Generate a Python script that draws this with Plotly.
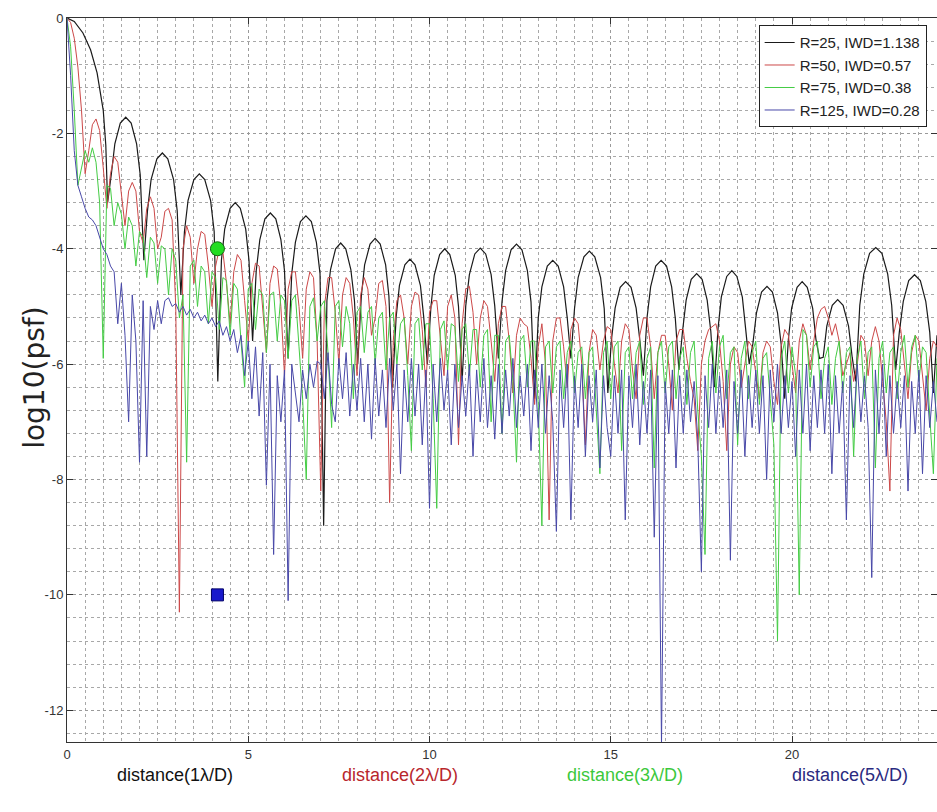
import plotly.graph_objects as go

# ---------------- data ----------------
# R=25 (black): lobe nulls / shoulders / peaks
black_x = [0.0, 0.2, 0.44, 0.65, 0.83, 1.0, 1.07, 1.12,
           1.22, 1.32, 1.47, 1.62, 1.77, 1.92, 2.02, 2.12,
           2.22, 2.32, 2.48, 2.63, 2.78, 2.94, 3.04, 3.14,
           3.24, 3.34, 3.5, 3.65, 3.8, 3.96, 4.06, 4.16,
           4.26, 4.35, 4.5, 4.64, 4.78, 4.93, 5.02, 5.12,
           5.22, 5.32, 5.46, 5.61, 5.76, 5.9, 6.0, 6.1,
           6.2, 6.3, 6.44, 6.59, 6.74, 6.88, 6.98, 7.08,
           7.17, 7.27, 7.41, 7.55, 7.69, 7.83, 7.93, 8.02,
           8.12, 8.21, 8.36, 8.5, 8.64, 8.79, 8.88, 8.98,
           9.08, 9.17, 9.32, 9.46, 9.6, 9.75, 9.84, 9.94,
           10.04, 10.13, 10.28, 10.42, 10.56, 10.71, 10.8, 10.9,
           11.0, 11.1, 11.25, 11.4, 11.55, 11.7, 11.8, 11.9,
           12.0, 12.1, 12.25, 12.4, 12.55, 12.7, 12.8, 12.9,
           13.0, 13.1, 13.25, 13.4, 13.55, 13.7, 13.8, 13.9,
           14.0, 14.1, 14.26, 14.41, 14.56, 14.72, 14.82, 14.92,
           15.02, 15.12, 15.26, 15.41, 15.56, 15.7, 15.8, 15.9,
           16.0, 16.1, 16.24, 16.39, 16.54, 16.68, 16.78, 16.88,
           16.98, 17.08, 17.22, 17.37, 17.52, 17.66, 17.76, 17.86,
           17.96, 18.05, 18.2, 18.34, 18.48, 18.63, 18.72, 18.82,
           18.92, 19.02, 19.16, 19.31, 19.46, 19.6, 19.7, 19.8,
           19.9, 19.99, 20.14, 20.28, 20.42, 20.57, 20.66, 20.76,
           20.86, 20.96, 21.11, 21.26, 21.41, 21.56, 21.66, 21.76,
           21.87, 21.98, 22.14, 22.31, 22.48, 22.64, 22.75, 22.86,
           22.96, 23.07, 23.22, 23.38, 23.54, 23.69, 23.8, 23.9,
           24.0]
black_y = [0.0, -0.06, -0.26, -0.55, -0.95, -1.6, -2.2, -3.2,
           -2.72, -2.18, -1.82, -1.72, -1.82, -2.18, -2.72, -4.2,
           -3.34, -2.8, -2.44, -2.34, -2.44, -2.8, -3.34, -4.8,
           -3.7, -3.16, -2.8, -2.7, -2.8, -3.16, -3.7, -6.3,
           -4.2, -3.66, -3.3, -3.2, -3.3, -3.66, -4.2, -5.6,
           -4.38, -3.84, -3.48, -3.38, -3.48, -3.84, -4.38, -5.9,
           -4.43, -3.89, -3.53, -3.43, -3.53, -3.89, -4.43, -8.8,
           -4.9, -4.36, -4.0, -3.9, -4.0, -4.36, -4.9, -6.0,
           -4.82, -4.28, -3.92, -3.82, -3.92, -4.28, -4.82, -6.4,
           -5.18, -4.64, -4.28, -4.18, -4.28, -4.64, -5.18, -6.0,
           -5.0, -4.46, -4.1, -4.0, -4.1, -4.46, -5.0, -6.3,
           -4.99, -4.45, -4.09, -3.99, -4.09, -4.45, -4.99, -5.9,
           -4.92, -4.38, -4.02, -3.92, -4.02, -4.38, -4.92, -6.6,
           -5.2, -4.66, -4.3, -4.2, -4.3, -4.66, -5.2, -5.9,
           -5.04, -4.5, -4.14, -4.04, -4.14, -4.5, -5.04, -6.5,
           -5.57, -5.03, -4.67, -4.57, -4.67, -5.03, -5.57, -6.2,
           -5.2, -4.66, -4.3, -4.2, -4.3, -4.66, -5.2, -6.1,
           -5.43, -4.89, -4.53, -4.43, -4.53, -4.89, -5.43, -6.4,
           -5.38, -4.84, -4.48, -4.38, -4.48, -4.84, -5.38, -6.0,
           -5.65, -5.11, -4.75, -4.65, -4.75, -5.11, -5.65, -6.6,
           -5.57, -5.03, -4.67, -4.57, -4.67, -5.03, -5.57, -5.9,
           -5.88, -5.34, -4.98, -4.88, -4.98, -5.34, -5.88, -6.3,
           -4.98, -4.44, -4.08, -3.98, -4.08, -4.44, -4.98, -6.1,
           -5.45, -4.91, -4.55, -4.45, -4.55, -4.91, -5.45, -6.5,
           -5.5]

# R=50, R=75, R=125 sampled every 0.1 (x = 0.0 ... 24.0)
grid_x = [round(i * 0.1, 1) for i in range(241)]

red_y = [
    0, -0.08, -0.35, -0.85, -1.6, -2.7, -2.3, -1.85, -1.75, -1.95,
    -2.6, -3.3, -2.7, -2.4, -2.5, -3.1, -3.6, -3.0, -2.85, -3.0,
    -3.7, -3.9, -3.3, -3.1, -3.3, -4.0, -3.8, -3.35, -3.3, -3.5,
    -5.0, -10.3, -4.0, -3.6, -3.8, -4.6, -4.0, -3.7, -3.75, -4.3,
    -5.0, -4.3, -4.0, -4.05, -4.6, -5.3, -4.4, -4.1, -4.2, -4.9,
    -5.6, -4.6, -4.25, -4.3, -5.0, -5.8, -4.6, -4.3, -4.35, -5.0,
    -6.2, -4.7, -4.4, -4.4, -5.0, -5.9, -4.7, -4.4, -4.5, -5.6,
    -8.2, -5.0, -4.5, -4.5, -5.1, -6.0, -4.8, -4.5, -4.6, -5.2,
    -6.2, -4.8, -4.5, -4.7, -5.5, -5.2, -4.6, -4.55, -5.0, -8.4,
    -5.6, -4.9, -4.8, -5.2, -6.0, -5.0, -4.75, -4.8, -5.4, -6.4,
    -5.1, -4.9, -4.9, -5.5, -6.2, -5.0, -4.8, -5.2, -7.4, -5.3,
    -4.7, -4.65, -5.1, -6.0, -5.2, -4.9, -5.0, -5.6, -6.3, -5.3,
    -5.0, -5.0, -5.6, -6.5, -5.5, -5.2, -5.3, -5.35, -5.9, -6.7,
    -5.7, -5.3, -6.0, -8.7, -5.6, -5.2, -5.2, -5.7, -6.4, -5.4,
    -5.2, -5.3, -6.0, -7.4, -5.8, -5.4, -5.5, -6.1, -5.6, -5.35,
    -5.4, -6.0, -6.5, -5.6, -5.3, -5.4, -6.1, -6.6, -5.5, -5.2,
    -5.2, -5.7, -6.6, -5.8, -5.5, -5.5, -6.0, -6.8, -5.6, -5.4,
    -5.4, -5.9, -6.3, -6.6, -7.5, -6.0, -5.6, -5.4, -5.35, -5.3,
    -5.6, -6.3, -7.5, -6.0, -5.7, -5.8, -6.4, -6.0, -5.6, -5.7,
    -6.2, -6.6, -5.8, -5.6, -5.7, -6.3, -6.7, -5.7, -5.4, -5.5,
    -6.0, -6.5, -5.6, -5.3, -5.5, -6.1, -5.6, -5.2, -5.05, -5.0,
    -5.2, -5.5, -5.3, -5.6, -6.2, -6.0, -5.8, -6.3, -6.0, -5.5,
    -5.6, -6.2, -5.6, -5.35, -5.6, -6.3, -7.0, -8.2, -5.5, -5.2,
    -5.4, -6.0, -6.6, -5.8, -5.5, -5.6, -6.2, -6.8, -5.9, -5.6,
    -5.7]

green_y = [
    0, -0.5, -1.6, -2.9, -2.6, -2.3, -2.5, -2.25, -2.5, -3.2,
    -5.9, -2.9, -2.95, -3.6, -3.2, -3.4, -4.0, -3.45, -3.6, -4.3,
    -3.7, -3.8, -4.5, -3.8, -3.9, -4.6, -3.95, -4.0, -4.8, -4.0,
    -4.2, -5.2, -4.8, -7.7, -4.3, -4.2, -5.0, -4.3, -4.4, -5.3,
    -4.4, -4.5, -5.4, -4.5, -4.55, -5.5, -4.6, -4.7, -5.6, -6.4,
    -4.7, -4.6, -5.4, -4.7, -4.8, -5.8, -4.8, -4.75, -5.6, -4.8,
    -4.9, -5.9, -4.9, -4.8, -5.7, -6.6, -8.0, -5.0, -4.85, -5.6,
    -5.0, -4.9, -5.8, -7.1, -5.0, -4.9, -5.7, -5.0, -5.3, -6.6,
    -5.1, -5.0, -5.8, -5.1, -5.0, -6.0, -5.2, -5.1, -6.1, -5.2,
    -5.1, -6.0, -5.3, -5.2, -6.2, -7.5, -5.3, -5.2, -6.1, -5.3,
    -5.3, -6.6, -8.5, -5.4, -5.25, -6.1, -5.3, -5.35, -6.3, -5.4,
    -5.3, -6.2, -5.4, -5.4, -6.4, -5.5, -5.4, -7.0, -5.5, -5.5,
    -7.2, -5.6, -5.5, -6.3, -7.7, -5.6, -5.5, -6.4, -5.6, -5.6,
    -6.7, -8.8, -5.7, -5.6, -6.5, -5.7, -5.6, -6.6, -5.8, -5.6,
    -6.5, -5.8, -5.7, -6.6, -5.8, -5.7, -6.8, -7.9, -5.8, -5.6,
    -6.6, -5.7, -5.6, -7.5, -5.8, -5.7, -6.6, -5.8, -5.6, -6.7,
    -5.9, -5.7, -7.8, -5.8, -5.6, -6.5, -5.7, -5.6, -6.6, -5.9,
    -5.7, -6.7, -5.8, -5.6, -6.8, -7.6, -9.3, -5.9, -5.6, -6.5,
    -5.7, -5.5, -6.6, -5.8, -5.7, -7.4, -5.9, -5.6, -6.6, -5.8,
    -5.6, -6.7, -5.9, -5.8, -6.6, -7.4, -10.8, -5.9, -5.6, -6.5,
    -5.7, -6.2, -10.0, -5.4, -5.5, -6.4, -5.7, -5.6, -6.6, -5.9,
    -5.7, -6.7, -5.9, -5.6, -6.5, -5.8, -5.7, -7.6, -5.9, -5.6,
    -6.6, -5.8, -5.7, -7.8, -5.9, -5.6, -6.5, -5.8, -5.7, -6.6,
    -5.8, -5.5, -6.4, -5.7, -5.5, -6.3, -5.7, -5.8, -6.9, -7.9,
    -5.9]

blue_y = [
    0, -1.0, -2.3, -2.9, -3.1, -3.3, -3.45, -3.5, -3.6, -3.8,
    -4.0, -4.1, -4.3, -4.4, -5.3, -4.6, -5.5, -7.0, -4.8, -5.6,
    -7.7, -4.9, -7.6, -5.0, -5.4, -4.9, -5.3, -4.9, -4.85, -5.0,
    -4.95, -5.1, -5.0, -5.15, -5.05, -5.2, -5.1, -5.25, -5.15, -5.3,
    -5.2, -5.35, -5.25, -5.5, -5.35, -5.6, -5.4, -5.8, -5.5, -6.2,
    -5.6, -6.6, -5.7, -6.9, -5.8, -8.1, -6.0, -9.3, -6.2, -7.0,
    -6.1, -10.1, -6.0, -6.5, -7.0, -6.1, -6.6, -6.0, -6.4, -5.95,
    -6.0, -6.6, -5.8, -6.7, -7.0, -5.9, -6.6, -5.8, -6.9, -6.0,
    -6.8, -5.9, -7.0, -6.0, -7.3, -5.9, -6.9, -6.1, -7.1, -5.9,
    -6.8, -6.0, -7.9, -6.1, -7.0, -5.9, -6.9, -6.0, -7.4, -6.1,
    -8.5, -6.0, -7.0, -5.9, -6.8, -6.1, -7.4, -6.0, -7.1, -6.2,
    -6.9, -6.0, -7.6, -6.1, -7.0, -5.9, -7.1, -6.2, -7.3, -6.0,
    -7.2, -6.1, -6.9, -5.9, -7.1, -6.2, -6.9, -6.0, -7.5, -6.1,
    -7.1, -6.0, -7.2, -6.2, -7.0, -8.9, -6.1, -7.1, -6.0, -8.7,
    -6.2, -7.1, -6.0, -7.6, -6.2, -7.0, -6.1, -7.8, -6.2, -7.1,
    -7.6, -6.2, -7.2, -6.1, -8.7, -6.2, -7.1, -6.0, -7.4, -6.3,
    -7.2, -6.1, -9.0, -6.2, -12.6, -6.3, -7.2, -6.1, -7.8, -6.2,
    -7.2, -6.1, -7.0, -6.3, -7.3, -9.6, -6.2, -7.1, -6.0, -7.2,
    -6.2, -7.1, -6.1, -9.4, -6.3, -7.2, -6.1, -7.6, -6.2, -7.1,
    -6.1, -7.2, -6.2, -8.0, -6.1, -7.0, -6.0, -7.2, -6.2, -7.1,
    -6.3, -7.6, -6.1, -7.2, -6.0, -7.5, -6.2, -7.1, -6.1, -7.2,
    -6.0, -7.9, -6.2, -7.2, -6.3, -8.7, -6.2, -7.1, -6.0, -7.0,
    -6.2, -7.1, -9.7, -6.1, -7.2, -6.0, -7.6, -6.2, -7.2, -6.3,
    -7.1, -6.2, -8.2, -6.3, -7.2, -6.1, -7.9, -6.2, -7.1, -6.3,
    -7.0]

series_names = ["R=25, IWD=1.138", "R=50, IWD=0.57", "R=75, IWD=0.38", "R=125, IWD=0.28"]

marker_circle = (4.15, -4.0)
marker_square = (4.15, -10.0)

x_tick_vals = [0, 5, 10, 15, 20]
x_tick_text = ["0", "5", "10", "15", "20"]
y_tick_vals = [0, -2, -4, -6, -8, -10, -12]
y_tick_text = ["0", "-2", "-4", "-6", "-8", "-10", "-12"]

x_titles = ["distance(1\u03bb/D)", "distance(2\u03bb/D)", "distance(3\u03bb/D)", "distance(5\u03bb/D)"]
y_title = "log10(psf)"

# ---------------- figure ----------------
colors = ["#1a1a1a", "#cc4848", "#44cc44", "#4848a8"]
title_colors = ["#111111", "#b8262c", "#3cc83c", "#2a2a80"]
font_main = "Liberation Sans, Arial, sans-serif"

fig = go.Figure()
fig.add_trace(go.Scatter(x=black_x, y=black_y, mode="lines", name=series_names[0],
                         line=dict(color=colors[0], width=1.2)))
fig.add_trace(go.Scatter(x=grid_x, y=red_y, mode="lines", name=series_names[1],
                         line=dict(color=colors[1], width=1)))
fig.add_trace(go.Scatter(x=grid_x, y=green_y, mode="lines", name=series_names[2],
                         line=dict(color=colors[2], width=1)))
fig.add_trace(go.Scatter(x=grid_x, y=blue_y, mode="lines", name=series_names[3],
                         line=dict(color=colors[3], width=1)))
fig.add_trace(go.Scatter(x=[marker_circle[0]], y=[marker_circle[1]], mode="markers", showlegend=False,
                         marker=dict(symbol="circle", size=14, color="#22dd22",
                                     line=dict(color="#116611", width=1))))
fig.add_trace(go.Scatter(x=[marker_square[0]], y=[marker_square[1]], mode="markers", showlegend=False,
                         marker=dict(symbol="square", size=12, color="#1a1acc",
                                     line=dict(color="#000066", width=1))))

positions = [0.124, 0.383, 0.641, 0.9]
for txt, col, px in zip(x_titles, title_colors, positions):
    fig.add_annotation(text=txt, x=px, y=-0.046, xref="paper", yref="paper",
                       xanchor="center", yanchor="middle", showarrow=False,
                       font=dict(family=font_main, size=18, color=col))

fig.add_annotation(text=y_title, x=-0.0368, y=0.503, xref="paper", yref="paper",
                   xanchor="center", yanchor="middle", showarrow=False, textangle=-90,
                   font=dict(family="DejaVu Sans, sans-serif", size=28, color="#222"))

grid_style = dict(showgrid=True, gridcolor="#9a9a9a", gridwidth=1, griddash="dot")

fig.update_xaxes(range=[0, 24], tickmode="array", tickvals=x_tick_vals, ticktext=x_tick_text,
                 ticks="inside", ticklen=6, tickcolor="#333", showline=True, linecolor="#333",
                 linewidth=1, mirror="ticks", zeroline=False, automargin=False,
                 tickfont=dict(family=font_main, size=13, color="#333"),
                 minor=dict(dtick=0.5, tick0=0, showgrid=True, gridcolor="#a8a8a8", griddash="dot"),
                 **grid_style)
fig.update_yaxes(range=[-12.55, 0], tickmode="array", tickvals=y_tick_vals, ticktext=y_tick_text,
                 ticks="inside", ticklen=6, tickcolor="#333", showline=True, linecolor="#333",
                 linewidth=1, mirror="ticks", zeroline=False, automargin=False,
                 tickfont=dict(family=font_main, size=13, color="#333"),
                 minor=dict(dtick=0.4, tick0=0, showgrid=True, gridcolor="#a8a8a8", griddash="dot"),
                 **grid_style)

fig.update_layout(
    width=937, height=812,
    margin=dict(l=67, r=0, t=18, b=70),
    paper_bgcolor="white", plot_bgcolor="white",
    showlegend=True,
    legend=dict(x=0.795, y=0.99, xanchor="left", yanchor="top",
                bgcolor="white", bordercolor="#222", borderwidth=1,
                font=dict(family=font_main, size=15, color="#222"),
                itemwidth=30, tracegroupgap=0),
)

fig.write_html("out.html",
               config={"displayModeBar": False},
               post_script="document.body.style.margin='0';document.body.style.overflow='hidden';")
